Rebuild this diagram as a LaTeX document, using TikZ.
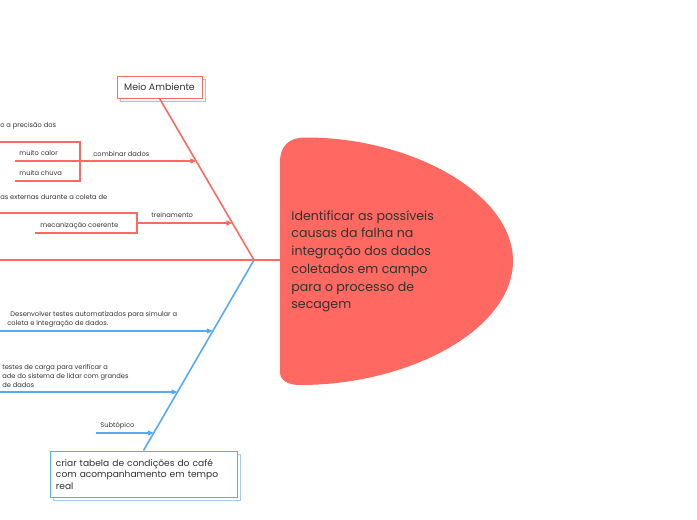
\documentclass[tikz,border=0pt]{standalone}
\usepackage{fontspec}
\setmainfont{Poppins}
\usetikzlibrary{calc,arrows.meta,shadows,positioning}
\definecolor{fishRed}{RGB}{255,105,97}
\definecolor{fishRedLight}{RGB}{255,165,160}
\definecolor{boneBlue}{RGB}{88,170,245}
\definecolor{boneBlueLight}{RGB}{160,205,250}
\definecolor{inkGray}{RGB}{50,50,50}

\begin{document}
\begin{tikzpicture}[x=1pt, y=-1pt, thick, text=inkGray,
    bone/.style={line width=1.6pt},
    twig/.style={line width=1.3pt},
    tipline/.style={twig, -{Triangle[length=6pt,width=5pt]}},
    note/.style={font=\fontsize{6.7}{9.3}\selectfont, inner sep=0pt, align=left},
    catbox/.style={draw, fill=white, line width=0.9pt, inner xsep=6pt, inner ysep=5pt, minimum height=22pt}]
    \useasboundingbox (0,0) rectangle (697,520);
    \fill[fishRed] (280,162) .. controls (280,146) and (289,137.5) .. (305,137.5)
        .. controls (410,137) and (513,193) .. (513,261)
        .. controls (513,329) and (410,385) .. (300,385)
        .. controls (287,385) and (280,380) .. (280,372) -- cycle;
    \node[anchor=north west, inner sep=0pt, align=left, font=\fontsize{12.6}{17.7}\selectfont]
        (effect) at (291,210) {Identificar as possíveis\\causas da falha na\\integração dos dados\\coletados em campo\\para o processo de\\secagem};
    \coordinate (head) at (280,260);
    \coordinate (tail) at (0,260);
    \coordinate (J) at (254,260);
    \draw[fishRed, line width=2pt] (tail) -- (head);
    \node[catbox, draw=fishRed, minimum width=85pt, font=\fontsize{9.4}{11}\selectfont,
        copy shadow={shadow xshift=3pt, shadow yshift=-3pt, draw=fishRedLight, fill=white, line width=0.9pt}]
        (meio) at (159.5,87) {Meio Ambiente};
    \node[catbox, draw=boneBlue, text width=175pt, align=left, minimum height=46pt, font=\fontsize{9.1}{11.5}\selectfont,
        copy shadow={shadow xshift=3pt, shadow yshift=-3pt, draw=boneBlueLight, fill=white, line width=0.9pt}]
        (tabela) at (143.5,474) {criar tabela de condições do café\\com acompanhamento em tempo\\real};
    \draw[fishRed, bone] (meio.south) -- (J);
    \draw[boneBlue, bone] (J) -- (tabela.north);
    \coordinate (r1) at ($(meio.south)!0.389!(J)$);
    \coordinate (r2) at ($(meio.south)!0.772!(J)$);
    \coordinate (b1) at ($(J)!0.372!(tabela.north)$);
    \coordinate (b2) at ($(J)!0.691!(tabela.north)$);
    \coordinate (b3) at ($(J)!0.906!(tabela.north)$);
    \coordinate (c1) at (15,161);
    \coordinate (c2) at (137,223);
    \coordinate (k1) at (0,142);
    \coordinate (k2) at (80,142);
    \coordinate (k3) at (80,181);
    \coordinate (k4) at (15,181);
    \coordinate (k5) at (0,213);
    \coordinate (k6) at (137,213);
    \coordinate (k7) at (137,233);
    \coordinate (k8) at (35,233);
    \draw[fishRed, twig] (k1) -- (k2) -- (k3) -- (k4);
    \draw[fishRed, twig] (k5) -- (k6) -- (k7) -- (k8);
    \draw[fishRed, tipline] (c1) -- (c1 -| r1);
    \draw[fishRed, tipline] (c2) -- (c2 -| r2);
    \coordinate (a1) at (0,331);
    \coordinate (a2) at (0,392);
    \coordinate (a3) at (96,433);
    \draw[boneBlue, tipline] (a1) -- (a1 -| b1);
    \draw[boneBlue, tipline] (a2) -- (a2 -| b2);
    \draw[boneBlue, tipline] (a3) -- (a3 -| b3);
    \node[note, anchor=west] (precisao) at (0,126) {o a precisão dos};
    \node[note, anchor=west] (calor) at (19,153) {muito calor};
    \node[note, anchor=west] (chuva) at (19,173) {muita chuva};
    \node[note, anchor=west] (combinar) at (93,154) {combinar dados};
    \node[note, anchor=west] (externas) at (0,197) {as externas durante a coleta de};
    \node[note, anchor=west] (mecanizacao) at (40,226) {mecanização coerente};
    \node[note, anchor=west] (treino) at (151,215) {treinamento};
    \node[note, anchor=west] (automatizar) at (7,319) {\hspace{3pt}Desenvolver testes automatizados para simular a\\coleta e integração de dados.};
    \node[note, anchor=west] (carga) at (2,376) {testes de carga para verificar a\\ade do sistema de lidar com grandes\\de dados};
    \node[note, anchor=west] (subtopico) at (100,426) {Subtópico};
\end{tikzpicture}
\end{document}
